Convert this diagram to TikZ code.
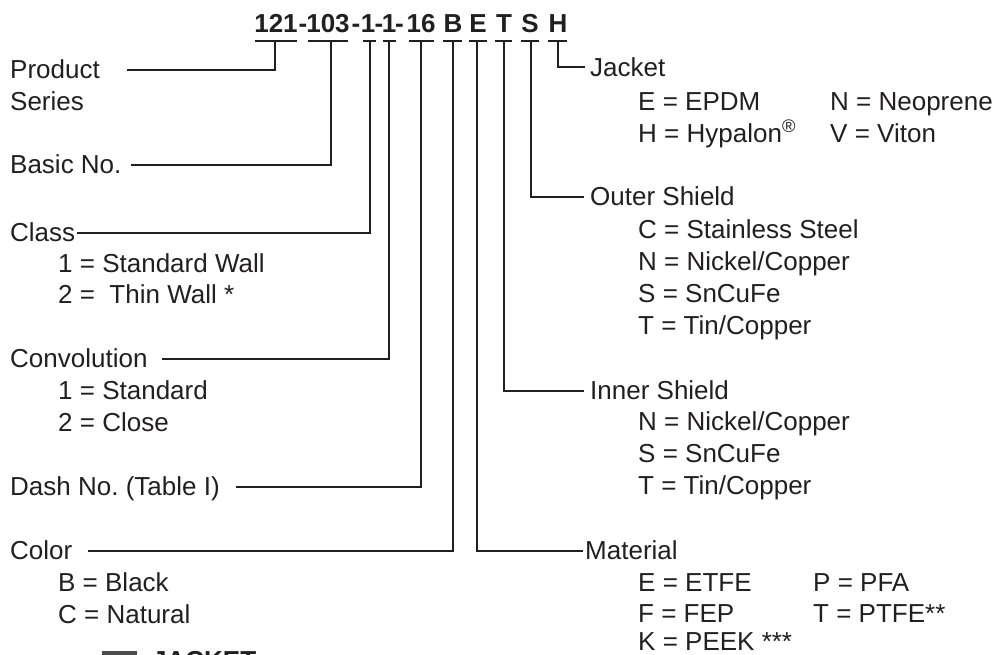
\documentclass[tikz,border=0pt]{standalone}
\usepackage{fontspec}
\setmainfont{Liberation Sans}
\definecolor{ink}{HTML}{231F20}
\frenchspacing
\begin{document}
\begin{tikzpicture}[x=1pt,y=-1pt,
  lbl/.style={anchor=base west, inner sep=0pt, font=\fontsize{26}{26}\selectfont, text=ink},
  ttl/.style={anchor=base, inner sep=0pt, font=\bfseries\fontsize{26}{26}\selectfont, text=ink},
  con/.style={draw=ink, line width=2pt},
]
\clip (0,0) rectangle (996,654);
\fill[white] (0,0) rectangle (996,654);
% title
\node[ttl] (t121) at (276,32) {121};
\node[ttl] (h1) at (303,32) {-};
\node[ttl] (t103) at (328,32) {103};
\node[ttl] (h2) at (356,32) {-};
\node[ttl] (t1a) at (368,32) {1};
\node[ttl] (h3) at (379,32) {-};
\node[ttl] (t1b) at (389,32) {1};
\node[ttl] (h4) at (399.5,32) {-};
\node[ttl] (t16) at (421,32) {16};
\node[ttl] (tB) at (453,32) {B};
\node[ttl] (tE) at (478,32) {E};
\node[ttl] (tT) at (504,32) {T};
\node[ttl] (tS) at (530,32) {S};
\node[ttl] (tH) at (558,32) {H};
% underlines
\foreach \a/\b in {255/297,308/348,363/376,383/396,409/434,443/462,469/487,495/512,521/539,548/567}
  \draw[con] (\a,41) -- (\b,41);
% vertical tops
\coordinate (u121) at (275,41);
\coordinate (u103) at (331,41);
\coordinate (uC) at (370,41);
\coordinate (uV) at (389,41);
\coordinate (uD) at (421,41);
\coordinate (uB) at (453,41);
\coordinate (uE) at (477,41);
\coordinate (uT) at (504,41);
\coordinate (uS) at (531,41);
\coordinate (uH) at (558,41);
% left labels
\node[lbl] (prod) at (10,78.5) {Product};
\node[lbl] (ser) at (10,110) {Series};
\node[lbl] (basic) at (10,173.5) {Basic No.};
\node[lbl] (cls) at (10,241.5) {Class};
\node[lbl] (cls1) at (58,272) {1 = Standard Wall};
\node[lbl] (cls2) at (58,303) {2 = \ Thin Wall *};
\node[lbl] (conv) at (10,367.5) {Convolution};
\node[lbl] (conv1) at (58,399) {1 = Standard};
\node[lbl] (conv2) at (58,431) {2 = Close};
\node[lbl] (dash) at (10,495.5) {Dash No. (Table I)};
\node[lbl] (col) at (10,559.5) {Color};
\node[lbl] (col1) at (58,591) {B = Black};
\node[lbl] (col2) at (58,623) {C = Natural};
% left line ends
\coordinate (eprod) at (127,70);
\coordinate (ebasic) at (131,165);
\coordinate (ecls) at (77,233);
\coordinate (econv) at (162,359);
\coordinate (edash) at (236,487);
\coordinate (ecol) at (88,551);
\draw[con] (u121) |- (eprod);
\draw[con] (u103) |- (ebasic);
\draw[con] (uC) |- (ecls);
\draw[con] (uV) |- (econv);
\draw[con] (uD) |- (edash);
\draw[con] (uB) |- (ecol);
% right labels
\node[lbl] (jac) at (590,76) {Jacket};
\node[lbl] (jac1) at (638,110) {E = EPDM};
\node[lbl] (jac2) at (830,110) {N = Neoprene};
\node[lbl] (jac3) at (638,142) {H = Hypalon\textsuperscript{®}};
\node[lbl] (jac4) at (830,142) {V = Viton};
\node[lbl] (out) at (590,205.5) {Outer Shield};
\node[lbl] (out1) at (638,238) {C = Stainless Steel};
\node[lbl] (out2) at (638,270) {N = Nickel/Copper};
\node[lbl] (out3) at (638,302) {S = SnCuFe};
\node[lbl] (out4) at (638,334) {T = Tin/Copper};
\node[lbl] (inn) at (590,399.5) {Inner Shield};
\node[lbl] (inn1) at (638,430) {N = Nickel/Copper};
\node[lbl] (inn2) at (638,462) {S = SnCuFe};
\node[lbl] (inn3) at (638,494) {T = Tin/Copper};
\node[lbl] (mat) at (585,559.5) {Material};
\node[lbl] (mat1) at (638,591) {E = ETFE};
\node[lbl] (mat2) at (813,591) {P = PFA};
\node[lbl] (mat3) at (638,622) {F = FEP};
\node[lbl] (mat4) at (813,622) {T = PTFE**};
\node[lbl] (mat5) at (638,650) {K = PEEK ***};
% right line ends
\coordinate (ejac) at (585,67);
\coordinate (eout) at (584,197);
\coordinate (einn) at (584,391);
\coordinate (emat) at (583,551);
\draw[con] (uH) |- (ejac);
\draw[con] (uS) |- (eout);
\draw[con] (uT) |- (einn);
\draw[con] (uE) |- (emat);
% clipped legend at bottom
\fill[gray!60!black] (102,651) rectangle (137,662);
\node[anchor=base west, inner sep=0pt, font=\bfseries\fontsize{26}{26}\selectfont, text=ink] (jk) at (152,669) {JACKET};
\end{tikzpicture}
\end{document}
